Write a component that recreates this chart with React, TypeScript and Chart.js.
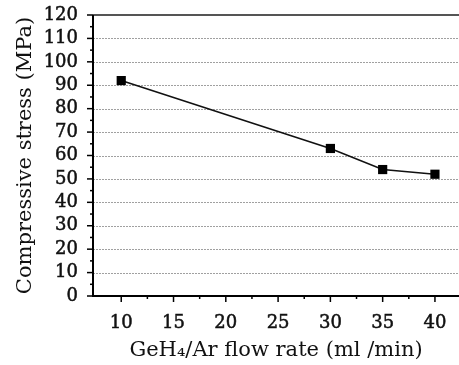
import React, { useEffect, useRef } from "react";
import { Chart, registerables } from "chart.js";

Chart.register(...registerables);

const flowRates = [10, 30, 35, 40];
const stressValues = [92, 63, 54, 52];
const xTickValues = [10, 15, 20, 25, 30, 35, 40];
const xMinorTickValues = [12.5, 17.5, 22.5, 27.5, 32.5, 37.5];
const yTickValues = [0, 10, 20, 30, 40, 50, 60, 70, 80, 90, 100, 110, 120];
const yMinorTickValues = [5, 15, 25, 35, 45, 55, 65, 75, 85, 95, 105, 115];
const yGridValues = [10, 20, 30, 40, 50, 60, 70, 80, 90, 100, 110];

const FONT = "'DejaVu Serif', 'Liberation Serif', serif";

const framePlugin = {
  id: "frame",
  beforeDatasetsDraw(chart: any) {
    const { ctx, chartArea, scales } = chart;
    const xs = scales.x;
    const ys = scales.y;
    const right = chart.width;
    ctx.save();
    // dotted grid
    ctx.strokeStyle = "#a0a0a0";
    ctx.lineWidth = 1;
    ctx.setLineDash([2, 1]);
    yGridValues.forEach((v) => {
      const y = Math.round(ys.getPixelForValue(v)) + 0.5;
      ctx.beginPath();
      ctx.moveTo(chartArea.left, y);
      ctx.lineTo(right, y);
      ctx.stroke();
    });
    ctx.setLineDash([]);
    // top border
    ctx.strokeStyle = "#555";
    ctx.lineWidth = 2;
    const yTop = ys.getPixelForValue(120);
    ctx.beginPath();
    ctx.moveTo(chartArea.left, yTop);
    ctx.lineTo(right, yTop);
    ctx.stroke();
    // axes
    ctx.strokeStyle = "#000";
    ctx.lineWidth = 2;
    const yBot = ys.getPixelForValue(0);
    const xLeft = chartArea.left;
    ctx.beginPath();
    ctx.moveTo(xLeft, yTop);
    ctx.lineTo(xLeft, yBot);
    ctx.moveTo(xLeft - 1, yBot);
    ctx.lineTo(right, yBot);
    ctx.stroke();
    // ticks
    ctx.lineWidth = 1.5;
    yTickValues.forEach((v) => {
      const y = ys.getPixelForValue(v);
      ctx.beginPath();
      ctx.moveTo(xLeft - 6, y);
      ctx.lineTo(xLeft, y);
      ctx.stroke();
    });
    yMinorTickValues.forEach((v) => {
      const y = ys.getPixelForValue(v);
      ctx.beginPath();
      ctx.moveTo(xLeft - 3, y);
      ctx.lineTo(xLeft + 1, y);
      ctx.stroke();
    });
    xTickValues.forEach((v) => {
      const x = xs.getPixelForValue(v);
      ctx.beginPath();
      ctx.moveTo(x, yBot);
      ctx.lineTo(x, yBot + 6);
      ctx.stroke();
    });
    xMinorTickValues.forEach((v) => {
      const x = xs.getPixelForValue(v);
      ctx.beginPath();
      ctx.moveTo(x, yBot - 1);
      ctx.lineTo(x, yBot + 3);
      ctx.stroke();
    });
    ctx.restore();
  },
};

export default function App() {
  const canvasRef = useRef<HTMLCanvasElement | null>(null);

  useEffect(() => {
    if (!canvasRef.current) return;
    const chart = new Chart(canvasRef.current, {
      type: "line",
      data: {
        datasets: [
          {
            data: flowRates.map((x, i) => ({ x, y: stressValues[i] })),
            borderColor: "#111",
            borderWidth: 1.6,
            backgroundColor: "#000",
            pointStyle: "rect",
            pointRadius: 6.5,
            pointBorderWidth: 0,
            pointBackgroundColor: "#000",
            tension: 0,
            clip: false,
          },
        ],
      },
      options: {
        responsive: false,
        animation: false,
        layout: { autoPadding: false, padding: { top: 15, right: 0, left: 0, bottom: 0 } },
        plugins: { legend: { display: false }, tooltip: { enabled: false } },
        scales: {
          x: {
            type: "linear",
            min: 7.3,
            max: 42.3,
            afterBuildTicks: (s: any) => {
              s.ticks = xTickValues.map((v) => ({ value: v }));
            },
            afterFit: (s: any) => {
              s.height = 69;
              s.paddingRight = 0;
              s.paddingLeft = 0;
            },
            grid: { display: false, drawTicks: false },
            border: { display: false },
            ticks: {
              color: "#111",
              font: { family: FONT, size: 18 },
              padding: 17,
              maxRotation: 0,
              autoSkip: false,
              textStrokeColor: "#111",
              textStrokeWidth: 0.5,
            },
            title: {
              display: true,
              text: "GeH₄/Ar flow rate (ml /min)",
              color: "#111",
              font: { family: FONT, size: 21 },
              padding: { top: 0, bottom: 1.5 },
            },
          },
          y: {
            min: 0,
            max: 120,
            afterBuildTicks: (s: any) => {
              s.ticks = yTickValues.map((v) => ({ value: v }));
            },
            afterFit: (s: any) => {
              s.width = 93;
              s.paddingTop = 0;
              s.paddingBottom = 0;
            },
            grid: { display: false, drawTicks: false },
            border: { display: false },
            ticks: {
              color: "#111",
              font: { family: FONT, size: 18 },
              padding: 15,
              autoSkip: false,
              textStrokeColor: "#111",
              textStrokeWidth: 0.5,
            },
            title: {
              display: true,
              text: "Compressive stress (MPa)",
              color: "#111",
              font: { family: FONT, size: 21 },
              padding: { top: 13, bottom: 0 },
            },
          },
        },
      },
      plugins: [framePlugin],
    });
    return () => chart.destroy();
  }, []);

  return (
    <div style={{ position: "absolute", left: 0, top: 0, width: 459, height: 365, background: "#fff" }}>
      <canvas ref={canvasRef} width={459} height={365} style={{ display: "block" }} />
    </div>
  );
}
